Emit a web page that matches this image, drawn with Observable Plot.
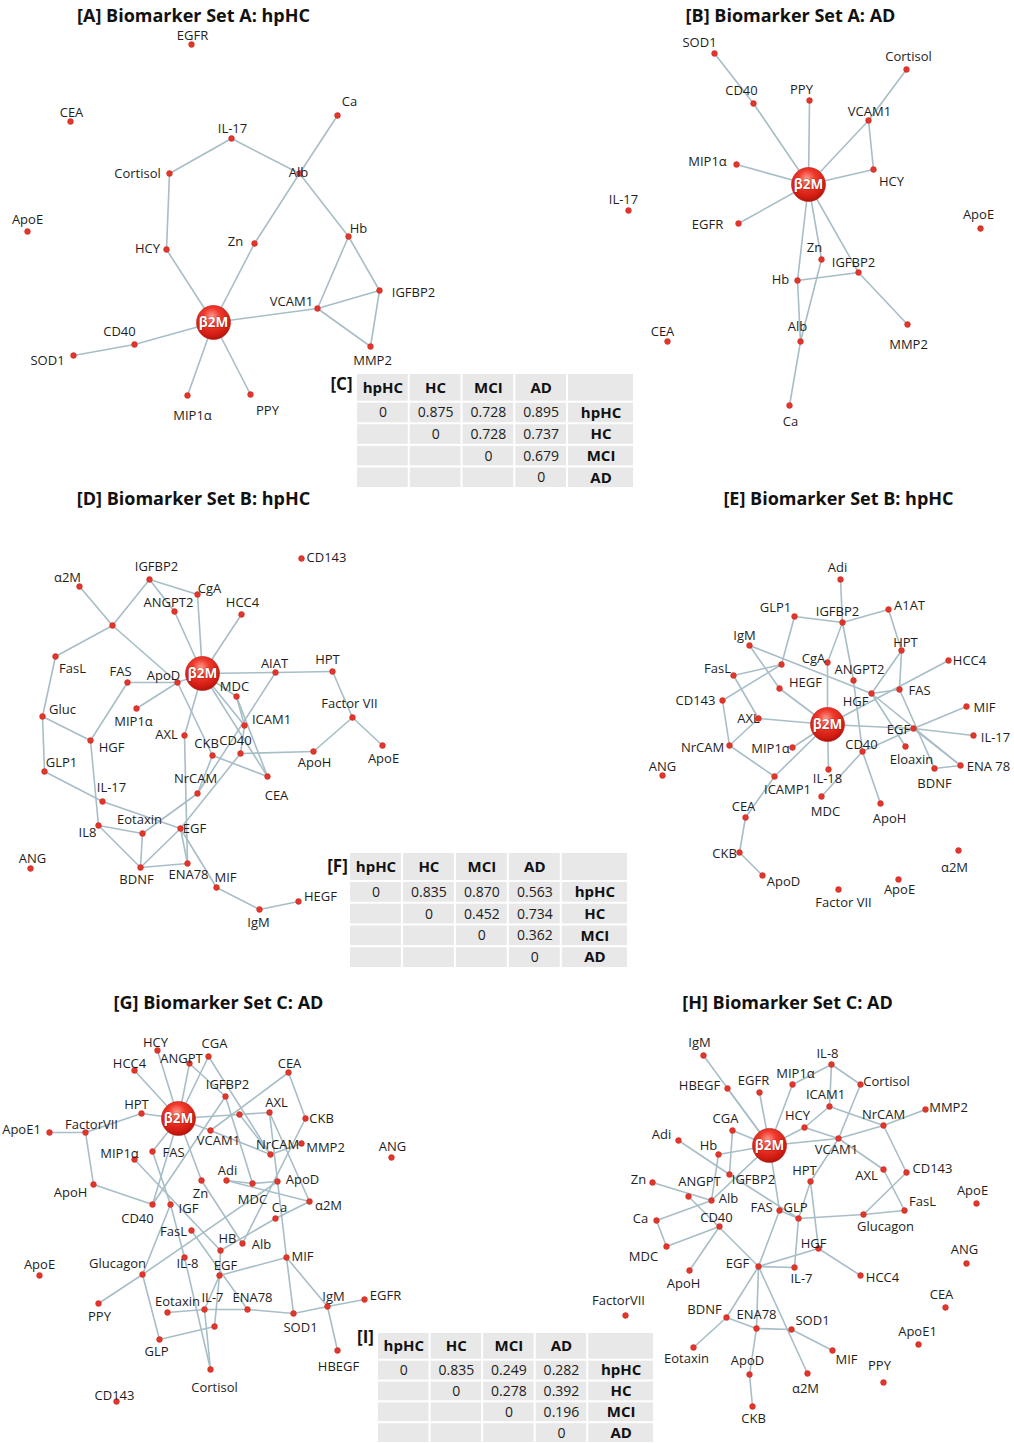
<!DOCTYPE html>
<html><head><meta charset="utf-8">
<script src="https://cdn.jsdelivr.net/npm/d3@7"></script>
<script src="https://cdn.jsdelivr.net/npm/@observablehq/plot@0.6"></script>
<style>
body{margin:0;background:#fff;font-family:"Open Sans",sans-serif}
#wrap{position:relative;width:1014px;height:1443px;overflow:hidden}
#wrap > *{position:absolute}
</style></head><body><div id="wrap"></div>
<script>
// ---- panel titles ----
const titles = [
  ["[A] Biomarker Set A: hpHC",193,16],["[B] Biomarker Set A: AD",790,16],
  ["[D] Biomarker Set B: hpHC",193,499],["[E] Biomarker Set B: hpHC",838,499],
  ["[G] Biomarker Set C: AD",218,1003],["[H] Biomarker Set C: AD",787,1003]
];
const tableTags = [["[C]",341,384],["[F]",337,866],["[I]",365,1337]];

// ---- node layouts: [name, x, y, labelX, labelY] ----
const nodesA = [["EGFR",191,44,192,35],["CEA",70,121,71,112],["Ca",337,115,349,101],["IL-17",231,138,232,128],
["Cortisol",169,173,137,173],["Alb",299,173,298,172],["ApoE",27,231,27,219],["HCY",166,249,147,248],
["Zn",254,243,235,241],["Hb",348,236,358,228],["IGFBP2",379,290,413,292],["VCAM1",317,308,291,301],
["β2M",213,322],["CD40",134,344,119,331],["SOD1",73,355,47,360],["MMP2",370,346,372,360],
["MIP1α",187,395,192,415],["PPY",250,394,267,410]];
const edgesA = [["IL-17","Cortisol"],["IL-17","Alb"],["Cortisol","HCY"],["HCY","β2M"],["Alb","Ca"],["Alb","Zn"],
["Zn","β2M"],["Alb","Hb"],["Hb","VCAM1"],["Hb","IGFBP2"],["VCAM1","IGFBP2"],["VCAM1","MMP2"],["IGFBP2","MMP2"],
["β2M","VCAM1"],["β2M","CD40"],["CD40","SOD1"],["β2M","MIP1α"],["β2M","PPY"]];

const nodesB = [["SOD1",714,53,699,42],["Cortisol",906,69,908,56],["CD40",753,103,741,90],["PPY",809,100,801,89],
["VCAM1",868,120,869,111],["MIP1α",736,164,707,161],["HCY",873,169,891,181],["β2M",808,184],
["IL-17",628,210,623,199],["EGFR",738,223,707,224],["ApoE",980,228,978,214],["Zn",821,259,814,247],
["IGFBP2",858,272,853,262],["Hb",797,280,780,279],["Alb",800,341,797,326],["CEA",667,341,662,331],
["MMP2",907,324,908,344],["Ca",789,405,790,421]];
const edgesB = [["SOD1","CD40"],["CD40","β2M"],["PPY","β2M"],["Cortisol","VCAM1"],["VCAM1","β2M"],["VCAM1","HCY"],
["HCY","β2M"],["MIP1α","β2M"],["EGFR","β2M"],["β2M","Hb"],["Hb","Alb"],["β2M","Zn"],["Zn","Alb"],["Alb","Ca"],
["Hb","IGFBP2"],["β2M","IGFBP2"],["IGFBP2","MMP2"]];

const nodesD = [["CD143",301,558,326,557],["α2M",79,586,67,577],["IGFBP2",149,579,156,566],["CgA",197,594,209,588],
["ANGPT2",174,611,168,602],["HCC4",241,614,242,602],["_u1",112,625],["FasL",55,656,72,668],["FAS",127,682,120,671],
["ApoD",177,682,163,675],["β2M",202,673],["AIAT",275,672,274,663],["HPT",332,671,327,659],["MDC",236,696,234,686],
["Gluc",42,716,62,709],["MIP1α",136,708,133,721],["ICAM1",244,725,271,719],["Factor VII",352,717,349,703],
["HGF",90,740,111,747],["AXL",184,735,166,734],["CKB",212,755,206,743],["CD40",240,753,235,740],
["ApoH",313,751,314,762],["ApoE",382,745,383,758],["GLP1",44,771,61,762],["CEA",267,776,276,795],
["NrCAM",197,793,195,778],["IL-17",102,801,111,787],["Eotaxin",142,833,139,819],["EGF",180,828,194,828],
["IL8",98,825,87,832],["ANG",30,868,32,858],["BDNF",140,867,136,879],["ENA78",187,863,188,874],
["MIF",216,887,225,877],["HEGF",298,901,320,896],["IgM",259,909,258,922]];
const edgesD = [["α2M","_u1"],["IGFBP2","_u1"],["IGFBP2","CgA"],["IGFBP2","ANGPT2"],["ANGPT2","β2M"],["CgA","β2M"],
["HCC4","β2M"],["_u1","FasL"],["_u1","ApoD"],["FasL","Gluc"],["Gluc","GLP1"],["Gluc","HGF"],["GLP1","IL-17"],
["IL-17","EGF"],["FAS","ApoD"],["FAS","HGF"],["ApoD","β2M"],["ApoD","MIP1α"],["ApoD","CKB"],["CKB","CEA"],
["β2M","AIAT"],["AIAT","HPT"],["HPT","Factor VII"],["Factor VII","ApoE"],["Factor VII","ApoH"],["ApoH","CD40"],
["AIAT","NrCAM"],["β2M","MDC"],["MDC","ICAM1"],["β2M","ICAM1"],["ICAM1","CD40"],["β2M","CEA"],["β2M","AXL"],
["AXL","ENA78"],["CD40","EGF"],["NrCAM","Eotaxin"],["NrCAM","CKB"],["HGF","IL8"],["IL8","Eotaxin"],["IL8","BDNF"],
["Eotaxin","BDNF"],["BDNF","EGF"],["BDNF","ENA78"],["EGF","ENA78"],["EGF","MIF"],["MIF","IgM"],["IgM","HEGF"],
["MDC","CEA"]];

const nodesE = [["Adi",840,579,837,567],["GLP1",794,616,775,607],["IGFBP2",842,622,837,611],["A1AT",888,609,909,605],
["IgM",749,645,744,635],["HPT",901,650,905,642],["HCC4",948,660,969,660],["CgA",827,662,813,658],["_u1",781,664],
["FasL",733,675,717,668],["ANGPT2",853,680,859,669],["HEGF",779,688,805,682],["FAS",899,689,919,690],
["HGF",871,693,855,701],["CD143",722,700,695,700],["AXL",758,718,748,718],["β2M",827,724],["MIF",966,706,984,707],
["EGF",913,728,898,729],["IL-17",973,735,995,737],["NrCAM",729,745,702,747],["MIP1α",792,747,770,748],
["CD40",862,751,861,744],["Eloaxin",905,746,911,759],["ANG",662,775,662,766],["IL-18",828,769,827,778],
["BDNF",934,768,934,783],["ENA 78",960,765,988,766],["ICAMP1",774,776,787,789],["MDC",821,796,825,811],
["ApoH",880,803,889,818],["CEA",745,817,743,806],["CKB",739,852,724,853],["α2M",958,850,954,867],
["ApoD",762,875,783,881],["ApoE",898,879,899,889],["Factor VII",838,889,843,902]];
const edgesE = [["Adi","IGFBP2"],["GLP1","IGFBP2"],["IGFBP2","A1AT"],["IGFBP2","CgA"],["CgA","β2M"],["IGFBP2","ANGPT2"],
["ANGPT2","CD40"],["A1AT","HPT"],["HPT","HGF"],["HPT","FAS"],["FAS","BDNF"],["GLP1","_u1"],["_u1","FasL"],
["_u1","CD143"],["IgM","HEGF"],["HEGF","β2M"],["IgM","HGF"],["FasL","AXL"],["CD143","NrCAM"],["AXL","NrCAM"],
["AXL","β2M"],["NrCAM","ICAMP1"],["ICAMP1","β2M"],["ICAMP1","CEA"],["CEA","CKB"],["CKB","ApoD"],["β2M","HCC4"],
["β2M","EGF"],["EGF","MIF"],["EGF","IL-17"],["EGF","ENA 78"],["EGF","CD40"],["HGF","FAS"],["HGF","Eloaxin"],
["HGF","ENA 78"],["BDNF","ENA 78"],["β2M","MIP1α"],["β2M","IL-18"],["MDC","CD40"],["CD40","ApoH"]];

const nodesG = [["HCY",157,1050,155,1042],["CGA",208,1056,214,1043],["HCC4",134,1070,129,1063],["ANGPT",189,1063,181,1058],
["CEA",288,1072,289,1063],["IGFBP2",225,1096,227,1084],["HPT",141,1113,136,1104],["β2M",178,1118],
["AXL",269,1112,276,1102],["_u1",239,1114],["CKB",305,1118,321,1118],["ApoE1",49,1132,21,1129],
["FactorVII",85,1132,91,1124],["VCAM1",210,1130,218,1140],["NrCAM",270,1154,277,1144],["MMP2",301,1143,325,1147],
["ANG",391,1157,392,1146],["MIP1α",134,1159,119,1153],["FAS",152,1151,173,1152],["Zn",201,1180,200,1193],
["Adi",226,1180,227,1170],["MDC",252,1183,252,1199],["ApoD",277,1181,302,1179],["ApoH",93,1184,70,1192],
["CD40",152,1204,137,1218],["IGF",170,1204,188,1208],["Ca",275,1218,279,1207],["α2M",309,1201,328,1205],
["FasL",191,1230,173,1231],["HB",220,1250,227,1238],["Alb",242,1243,261,1244],["IL-8",184,1257,187,1263],
["MIF",286,1257,302,1256],["ApoE",39,1275,39,1264],["Glucagon",142,1274,117,1263],["EGF",219,1275,225,1265],
["PPY",98,1303,99,1316],["Eotaxin",167,1312,177,1301],["IL-7",204,1309,212,1297],["ENA78",247,1309,252,1297],
["IgM",327,1306,333,1296],["EGFR",364,1299,385,1295],["SOD1",293,1313,300,1327],["_u2",214,1326],
["GLP",159,1339,156,1351],["HBEGF",337,1350,338,1366],["Cortisol",210,1369,214,1387],["CD143",116,1401,114,1395]];
const edgesG = [["β2M","HCY"],["β2M","HCC4"],["β2M","ANGPT"],["β2M","CGA"],["β2M","HPT"],["HPT","FactorVII"],
["FactorVII","ApoE1"],["FactorVII","ApoH"],["ApoH","CD40"],["β2M","_u1"],["β2M","VCAM1"],["β2M","FAS"],["β2M","Zn"],
["β2M","CD40"],["ANGPT","IGFBP2"],["CGA","NrCAM"],["IGFBP2","MDC"],["IGFBP2","CD40"],["CEA","VCAM1"],["CEA","CKB"],
["CKB","Alb"],["_u1","AXL"],["_u1","NrCAM"],["VCAM1","NrCAM"],["NrCAM","MMP2"],["AXL","α2M"],["AXL","MIF"],
["MIF","SOD1"],["Adi","MDC"],["MDC","ApoD"],["Adi","α2M"],["Ca","α2M"],["Ca","HB"],["MIF","EGF"],["MIF","IgM"],
["IgM","EGFR"],["IgM","HBEGF"],["IgM","SOD1"],["SOD1","ENA78"],["ENA78","IL-7"],["IL-7","Eotaxin"],["IL-7","Cortisol"],
["EGF","_u2"],["_u2","GLP"],["GLP","Glucagon"],["Glucagon","PPY"],["Glucagon","ApoD"],["MIP1α","HB"],["FasL","ENA78"],
["IGF","IL-8"],["IL-8","Cortisol"],["Zn","Alb"],["HB","EGF"],["EGF","IL-7"],["FAS","IGF"],["IGF","Glucagon"]];

const nodesH = [["IgM",703,1055,699,1042],["IL-8",831,1064,827,1053],["MIP1α",792,1084,795,1073],["HBEGF",727,1088,699,1085],
["EGFR",759,1092,753,1080],["Cortisol",860,1084,886,1081],["ICAM1",829,1106,825,1094],["MMP2",925,1109,948,1107],
["NrCAM",883,1125,883,1114],["HCY",804,1127,797,1115],["CGA",732,1130,725,1118],["Adi",678,1140,661,1134],
["Hb",718,1154,708,1145],["β2M",769,1145],["VCAM1",838,1138,836,1149],["IGFBP2",729,1174,753,1179],
["HPT",810,1181,804,1170],["AXL",883,1169,866,1175],["CD143",906,1172,932,1168],["Zn",652,1182,638,1179],
["ANGPT",688,1196,699,1181],["Alb",711,1200,728,1198],["ApoE",976,1203,972,1190],["FasL",904,1210,922,1201],
["FAS",779,1210,761,1207],["GLP",798,1218,795,1207],["Ca",656,1220,640,1218],["CD40",719,1226,716,1217],
["Glucagon",863,1214,885,1226],["HGF",818,1248,813,1243],["MDC",666,1246,643,1256],["ANG",966,1263,964,1249],
["EGF",758,1266,737,1263],["IL-7",794,1267,801,1278],["ApoH",689,1270,683,1283],["HCC4",860,1275,882,1277],
["CEA",945,1307,941,1294],["FactorVII",625,1315,618,1300],["BDNF",726,1317,704,1309],["ENA78",756,1328,756,1314],
["SOD1",791,1329,812,1320],["ApoE1",918,1344,917,1331],["Eotaxin",693,1347,686,1358],["MIF",832,1350,846,1359],
["ApoD",749,1374,747,1360],["PPY",883,1382,879,1365],["α2M",807,1373,805,1388],["CKB",752,1406,753,1418]];
const edgesH = [["IgM","β2M"],["HBEGF","β2M"],["EGFR","β2M"],["MIP1α","β2M"],["CGA","β2M"],["HCY","β2M"],["β2M","VCAM1"],
["β2M","Hb"],["β2M","Alb"],["β2M","FAS"],["IL-8","MIP1α"],["IL-8","Cortisol"],["IL-8","ICAM1"],["ICAM1","HCY"],
["ICAM1","NrCAM"],["NrCAM","MMP2"],["NrCAM","VCAM1"],["NrCAM","CD143"],["Cortisol","VCAM1"],["VCAM1","HCY"],
["VCAM1","AXL"],["VCAM1","HPT"],["HPT","GLP"],["AXL","FasL"],["CD143","Glucagon"],["Glucagon","FasL"],["Glucagon","GLP"],
["HPT","HGF"],["HGF","HCC4"],["HGF","EGF"],["GLP","IL-7"],["IL-7","EGF"],["FAS","EGF"],["FAS","GLP"],["Adi","IGFBP2"],
["Hb","Alb"],["CGA","IGFBP2"],["IGFBP2","GLP"],["Zn","Alb"],["ANGPT","EGF"],["Ca","Alb"],["Ca","MDC"],["MDC","CD40"],
["CD40","ApoH"],["EGF","BDNF"],["BDNF","Eotaxin"],["BDNF","ENA78"],["EGF","ENA78"],["EGF","α2M"],["ENA78","SOD1"],
["SOD1","MIF"],["ENA78","ApoD"],["ApoD","CKB"]];

// ---- distance tables ----
const groups = ["hpHC","HC","MCI","AD"];
const distC = [[0,0.875,0.728,0.895],[null,0,0.728,0.737],[null,null,0,0.679],[null,null,null,0]];
const distF = [[0,0.835,0.870,0.563],[null,0,0.452,0.734],[null,null,0,0.362],[null,null,null,0]];
const distI = [[0,0.835,0.249,0.282],[null,0,0.278,0.392],[null,null,0,0.196],[null,null,null,0]];
// relative column widths / row heights of the tables
const colWeights = [1,1,1,1,1.27];
const rowWeights = [1.33,1,1,1,1];

// ---- build ----
const panels = {A:[nodesA,edgesA],B:[nodesB,edgesB],D:[nodesD,edgesD],E:[nodesE,edgesE],G:[nodesG,edgesG],H:[nodesH,edgesH]};
const allNodes = [], allLinks = [];
for (const [key,[nodes,edges]] of Object.entries(panels)) {
  const m = new Map(nodes.map(n => [n[0], n]));
  for (const n of nodes) allNodes.push({panel:key,name:n[0],x:n[1],y:n[2],lx:n[3],ly:n[4]});
  for (const [a,b] of edges) {
    const p = m.get(a), q = m.get(b);
    if (!p || !q) { console.error("missing", key, a, b); continue; }
    allLinks.push({x1:p[1],y1:p[2],x2:q[1],y2:q[2]});
  }
}
const hubs = allNodes.filter(d => d.name === "β2M");
const small = allNodes.filter(d => d.name !== "β2M");
const labelled = small.filter(d => !d.name.startsWith("_"));

const FONT = '"Open Sans", sans-serif';
const main = Plot.plot({
  width:1014, height:1443, margin:0,
  x:{domain:[0,1014], range:[0,1014], axis:null},
  y:{domain:[0,1443], range:[0,1443], axis:null},
  style:{fontFamily:FONT, background:"transparent", overflow:"visible"},
  marks:[
    Plot.link(allLinks,{x1:"x1",y1:"y1",x2:"x2",y2:"y2",stroke:"#a7bec7",strokeWidth:1.6}),
    Plot.dot(small,{x:"x",y:"y",r:2.9,fill:"#e0362b",stroke:"#c92a20",strokeWidth:0.5}),
    Plot.dot(hubs,{x:"x",y:"y",r:17,fill:"url(#hubgrad)",stroke:"#b81a12",strokeWidth:0.6}),
    Plot.text(hubs,{x:"x",y:"y",text:() => "β2M",fill:"white",fontWeight:"bold",fontSize:13.5,stroke:"#8a0d08",strokeWidth:0.6,paintOrder:"stroke"}),
    Plot.text(labelled,{x:"lx",y:"ly",text:"name",fontSize:13,fill:"#1e1e1e"}),
    Plot.text(titles,{x:d => d[1],y:d => d[2],text:d => d[0],fontSize:18,fontWeight:"bold",fill:"#111"}),
    Plot.text(tableTags,{x:d => d[1],y:d => d[2],text:d => d[0],fontSize:17,fontWeight:"bold",fill:"#111"})
  ]
});
d3.select(main).insert("defs",":first-child").html(
  '<radialGradient id="hubgrad" cx="45%" cy="32%" r="70%">' +
  '<stop offset="0%" stop-color="#ff9a8c"/><stop offset="35%" stop-color="#f0392c"/>' +
  '<stop offset="80%" stop-color="#d11c12"/><stop offset="100%" stop-color="#a8120b"/></radialGradient>');
main.style.left = "0px"; main.style.top = "0px";
const wrap = document.getElementById("wrap");
wrap.appendChild(main);

function table(dist, left, top, w, h) {
  const cols = [...groups, "row"];
  const rows = ["head", ...groups];
  const cx = d3.cumsum([0, ...colWeights]), ry = d3.cumsum([0, ...rowWeights]);
  const cells = [];
  rows.forEach((r, ri) => cols.forEach((c, ci) => {
    let t = "", bold = false;
    if (r === "head") { t = c === "row" ? "" : c; bold = true; }
    else if (c === "row") { t = r; bold = true; }
    else {
      const v = dist[ri - 1][ci];
      t = v == null ? "" : (v === 0 ? "0" : d3.format(".3f")(v));
    }
    cells.push({x1:cx[ci], x2:cx[ci+1], y1:ry[ri], y2:ry[ri+1], xm:(cx[ci]+cx[ci+1])/2, ym:(ry[ri]+ry[ri+1])/2, t, bold});
  }));
  const p = Plot.plot({
    width:w, height:h, margin:0,
    x:{domain:[0, cx[cx.length-1]], range:[0,w], axis:null},
    y:{domain:[0, ry[ry.length-1]], range:[0,h], axis:null},
    style:{fontFamily:FONT, background:"transparent"},
    marks:[
      Plot.rect(cells,{x1:"x1",x2:"x2",y1:"y1",y2:"y2",fill:"#e8e8e8",inset:1}),
      Plot.text(cells.filter(d => !d.bold),{x:"xm",y:"ym",text:"t",fontSize:14,fill:"#222"}),
      Plot.text(cells.filter(d => d.bold),{x:"xm",y:"ym",text:"t",fontSize:15,fontWeight:"bold",fill:"#111"})
    ]
  });
  p.style.left = left + "px"; p.style.top = top + "px";
  wrap.appendChild(p);
}
table(distC, 356, 373, 278, 115);
table(distF, 349, 852, 279, 116);
table(distI, 377, 1332, 277, 111);
</script></body></html>
